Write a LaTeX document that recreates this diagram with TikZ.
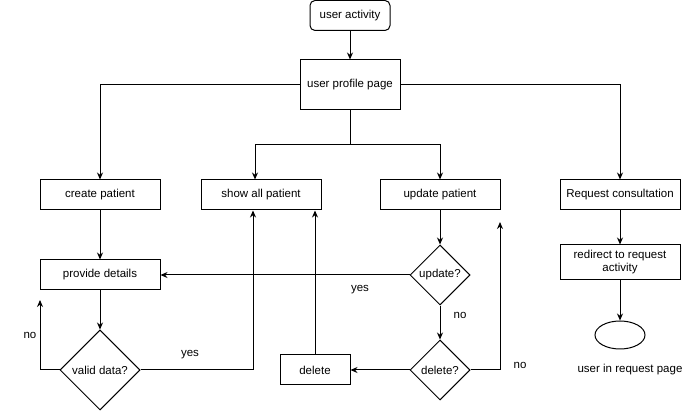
\documentclass[tikz,border=0pt]{standalone}
\usepackage{fontspec}
\setmainfont{Liberation Sans}
\usetikzlibrary{arrows.meta, shapes.geometric}

\begin{document}
\begin{tikzpicture}[
x=1pt, y=-1pt,
line width=1pt,
font=\fontsize{11.5}{13}\selectfont,
>={Stealth[length=7pt, width=6pt]},
stepbox/.style={
rectangle,
draw,
minimum width=120pt,
minimum height=30pt,
inner sep=0 pt,
},
choice/.style={
diamond,
draw,
aspect=1,
minimum size=60pt,
inner sep=0 pt,
},
]
\useasboundingbox (0,0) rectangle (691,411);

% main nodes
\node [stepbox, rounded corners=5pt, minimum width=80pt] at (350,15.5) (start) {user activity};
\node [stepbox, minimum width=100pt, minimum height=50pt] at (350,85) (profile) {user profile page};
\node [stepbox] at (100,195) (create) {create patient};
\node [stepbox] at (261,195) (showall) {show all patient};
\node [stepbox] at (440,195) (update) {update patient};
\node [stepbox] at (620,195) (request) {Request consultation};

% second row
\node [stepbox] at (100,275) (details) {provide details};
\node [choice, minimum size=80pt] at (100,370) (valid) {valid data?};
\node [choice] at (440,275) (updq) {update?};
\node [choice] at (440,370) (delq) {delete?};
\node [stepbox, minimum width=70pt] at (315,370) (delete) {delete};
\node [stepbox, minimum height=35pt, align=center] at (620,262.5) (redirect)
{redirect to request\\activity};
\node [ellipse, draw, minimum width=50pt, minimum height=28pt] at (620,335) (finish) {};
\node at (630,370) (finishlabel) {user in request page};

% branches out of the profile page
\coordinate (split) at (350,145);
\draw [->] (start) -- (profile);
\draw [->] (profile) -| (create);
\draw [->] (profile) -| (request);
\draw (profile) -- (split);
\draw [->] (split) -| ([xshift=-6pt]showall.north);
\draw [->] (split) -| (update);

% create patient
\coordinate (validno) at (40,300);
\draw [->] (create) -- (details);
\draw [->] (details) -- (valid);
\draw [->] (valid) -| (validno);
\draw [->] (valid) -| ([xshift=-8pt]showall.south);

% update patient
\coordinate (delno) at (500,222);
\draw [->] (update) -- (updq);
\draw [->] (updq) -- (details);
\draw [->] (updq) -- (delq);
\draw [->] (delq) -- (delete);
\draw [->] (delq) -| (delno);
\draw [->] (delete) -- (delete |- showall.south);

% consultation
\draw [->] (request) -- (redirect);
\draw [->] (redirect) -- (finish);

% edge labels
\path
(30,335) node (lnovalid) {no}
(190,355) node (lyesvalid) {yes}
(360,290) node (lyesupd) {yes}
(460,315) node (lnoupd) {no}
(520,365) node (lnodel) {no}
;

\end{tikzpicture}
\end{document}
